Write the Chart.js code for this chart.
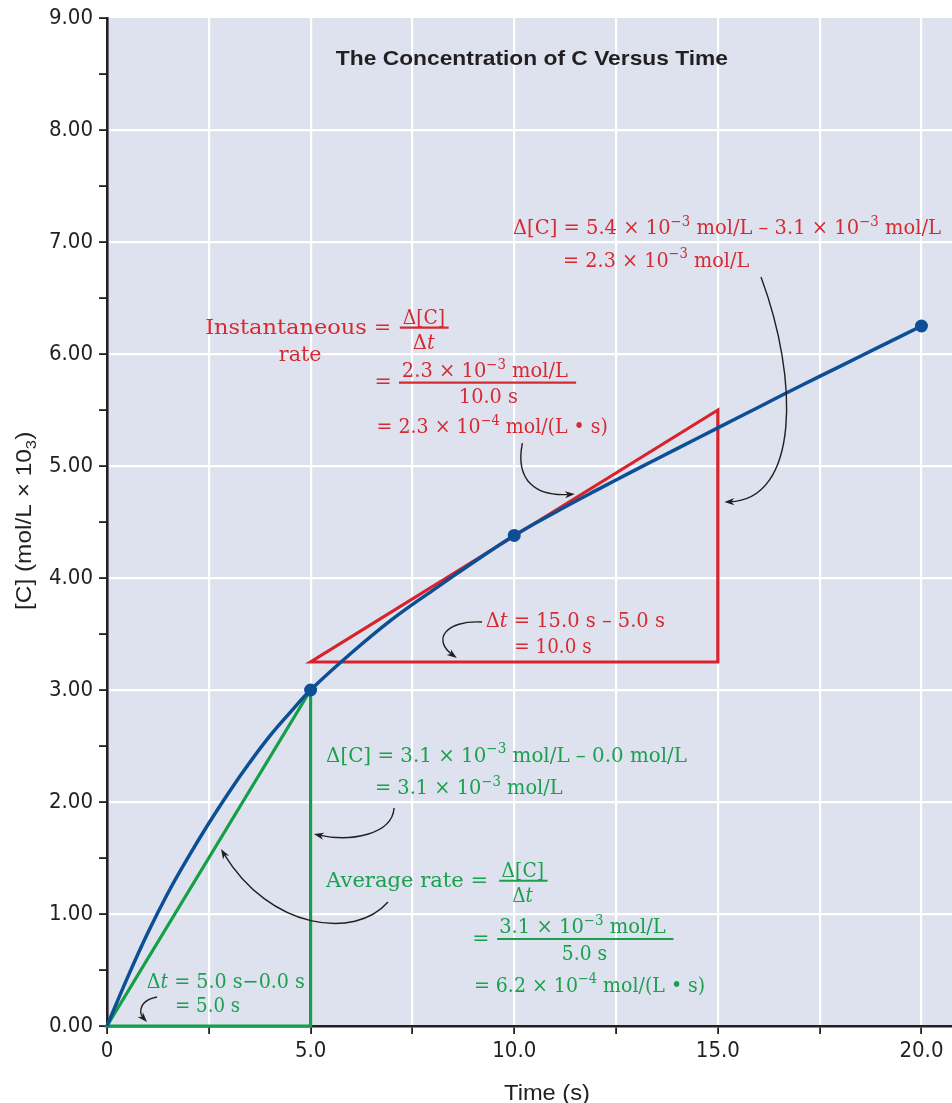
<!DOCTYPE html>
<html><head><meta charset="utf-8">
<script src="https://cdn.jsdelivr.net/npm/chart.js@4.4.1/dist/chart.umd.min.js"></script>
<style>html,body{margin:0;padding:0;background:#fff;overflow:hidden}#wrap{width:952px;height:1103px}</style>
</head><body><div id="wrap"><canvas id="c" width="952" height="1103"></canvas></div>
<script>
// ---------- data ----------
const timeValues = [0,0.5,1,1.5,2,2.5,3,3.5,4,4.5,5,6,7,8,9,10,11,12,13,14,15,16,17,18,19,20];
const concValues = [0,0.43,0.83,1.19,1.51,1.81,2.09,2.35,2.59,2.80,3.00,3.33,3.63,3.89,4.14,4.38,4.585,4.78,4.97,5.155,5.34,5.525,5.71,5.89,6.07,6.25];
const markerTimes = [5,10,20];
const markerConc = [3.00,4.38,6.25];
const avgTriTime = [5,0,5,5];
const avgTriConc = [0,0,3.0,0];
const instTriTime = [15,5,15,15];
const instTriConc = [3.25,3.25,5.5,3.25];
const xTickValues = [0,2.5,5,7.5,10,12.5,15,17.5,20];
const xTickLabels = ['0','','5.0','','10.0','','15.0','','20.0'];
const yTickValues = [0,0.5,1,1.5,2,2.5,3,3.5,4,4.5,5,5.5,6,6.5,7,7.5,8,8.5,9];
const yTickLabels = ['0.00','','1.00','','2.00','','3.00','','4.00','','5.00','','6.00','','7.00','','8.00','','9.00'];
const chartTitle = 'The Concentration of C Versus Time';
const xTitle = 'Time (s)';
const yTitle = '[C] (mol/L × 10_{3})';

// ---------- annotation texts (positions in data units) ----------
const noteLines = [
  {c:'r', x1:9.97, x2:20.48, y:7.069, s:'Δ[C] = 5.4 × 10^{−3} mol/L – 3.1 × 10^{−3} mol/L'},
  {c:'r', x1:11.20, x2:15.77, y:6.779, s:'= 2.3 × 10^{−3} mol/L'},
  {c:'r', x1:2.41, x2:6.38, y:6.176, s:'Instantaneous'},
  {c:'r', x1:6.58, x2:6.95, y:6.176, s:'='},
  {c:'r', x1:7.26, x2:8.30, y:6.265, s:'Δ[C]'},
  {c:'r', x1:7.51, x2:8.05, y:6.042, s:'Δ*t*'},
  {c:'r', x1:4.22, x2:5.27, y:5.938, s:'rate'},
  {c:'r', x1:6.61, x2:6.95, y:5.700, s:'='},
  {c:'r', x1:7.24, x2:11.32, y:5.792, s:'2.3 × 10^{−3} mol/L'},
  {c:'r', x1:8.64, x2:10.09, y:5.565, s:'10.0 s'},
  {c:'r', x1:6.62, x2:12.30, y:5.292, s:'= 2.3 × 10^{−4} mol/(L • s)'},
  {c:'r', x1:9.30, x2:13.70, y:3.565, s:'Δ*t* = 15.0 s – 5.0 s'},
  {c:'r', x1:10.00, x2:11.90, y:3.333, s:'= 10.0 s'},
  {c:'g', x1:5.38, x2:14.24, y:2.360, s:'Δ[C] = 3.1 × 10^{−3} mol/L – 0.0 mol/L'},
  {c:'g', x1:6.58, x2:11.19, y:2.071, s:'= 3.1 × 10^{−3} mol/L'},
  {c:'g', x1:5.38, x2:9.36, y:1.244, s:'Average rate ='},
  {c:'g', x1:9.69, x2:10.73, y:1.333, s:'Δ[C]'},
  {c:'g', x1:9.95, x2:10.46, y:1.110, s:'Δ*t*'},
  {c:'g', x1:9.04, x2:9.32, y:0.723, s:'='},
  {c:'g', x1:9.63, x2:13.72, y:0.828, s:'3.1 × 10^{−3} mol/L'},
  {c:'g', x1:11.17, x2:12.28, y:0.589, s:'5.0 s'},
  {c:'g', x1:9.01, x2:14.69, y:0.306, s:'= 6.2 × 10^{−4} mol/(L • s)'},
  {c:'g', x1:0.975, x2:4.86, y:0.337, s:'Δ*t* = 5.0 s−0.0 s'},
  {c:'g', x1:1.67, x2:3.27, y:0.128, s:'= 5.0 s'}
];
const fractionBars = [
  {c:'r', x1:7.19, x2:8.39, y:6.235},
  {c:'r', x1:7.17, x2:11.52, y:5.744},
  {c:'g', x1:9.63, x2:10.82, y:1.297},
  {c:'g', x1:9.58, x2:13.91, y:0.777}
];
// cubic bezier pointer arrows: [x0,y0, c1x,c1y, c2x,c2y, x1,y1] in data units
const pointerArrows = [
  [10.20,5.205, 10.02,4.875, 10.51,4.723, 11.49,4.75],
  [16.06,6.688, 17.00,5.768, 17.00,4.696, 15.16,4.679],
  [9.21,3.607, 8.30,3.625, 7.98,3.446, 8.59,3.286],
  [7.05,1.946, 7.00,1.705, 5.97,1.643, 5.08,1.714],
  [6.90,1.107, 6.09,0.768, 4.00,0.857, 2.80,1.580],
  [1.228,0.259, 0.810,0.232, 0.761,0.125, 0.982,0.036]
];

// ---------- styles ----------
const PLOT_BG = '#dee2ee';
const INK = '#231f20';
const BLUE = '#0c4f95';
const RED_LINE = '#d7232c';
const GREEN_LINE = '#14a049';
const TXT = {r:'#d62a33', g:'#1aa04e'};
const SERIF = '"DejaVu Serif","Liberation Serif",serif';
const SANS = '"Liberation Sans",Arial,sans-serif';
const NARROW = '"Liberation Sans Narrow","DejaVu Sans Condensed","Liberation Sans",sans-serif';

function parseRich(s){
  const out=[]; const re=/\^\{([^}]*)\}|_\{([^}]*)\}|\*([^*]+)\*/g; let last=0,m;
  while((m=re.exec(s))){
    if(m.index>last) out.push({t:s.slice(last,m.index),k:'n'});
    if(m[1]!==undefined) out.push({t:m[1],k:'sup'});
    else if(m[2]!==undefined) out.push({t:m[2],k:'sub'});
    else out.push({t:m[3],k:'it'});
    last=re.lastIndex;
  }
  if(last<s.length) out.push({t:s.slice(last),k:'n'});
  return out;
}
function partFont(p, st){
  if(p.k==='sup'||p.k==='sub') return `${st.weight||'normal'} ${st.small}px ${st.fam}`;
  if(p.k==='it') return `italic ${st.weight||'normal'} ${st.size}px ${st.fam}`;
  return `${st.weight||'normal'} ${st.size}px ${st.fam}`;
}
function richWidth(ctx, parts, st){
  let w=0; for(const p of parts){ ctx.font=partFont(p,st); w+=ctx.measureText(p.t).width; } return w;
}
function drawRich(ctx, s, x, y, st, targetW, rot, sy){
  const parts=parseRich(s);
  const nat=richWidth(ctx,parts,st);
  let sx = targetW ? targetW/nat : 1;
  if(s.length<=1){ x += (targetW-nat)/2; sx=1; }
  sx=Math.max(0.82,Math.min(1.18,sx));
  ctx.save();
  ctx.translate(x,y);
  if(rot) ctx.rotate(rot);
  ctx.scale(sx,sy||1);
  ctx.textBaseline='alphabetic'; ctx.textAlign='left';
  let cx=0;
  for(const p of parts){
    ctx.font=partFont(p,st);
    let dy=0; if(p.k==='sup') dy=-st.rise; if(p.k==='sub') dy=st.drop;
    ctx.fillText(p.t,cx,dy);
    cx+=ctx.measureText(p.t).width;
  }
  ctx.restore();
}

const notesPlugin = {
  id:'notes',
  beforeDraw(chart){
    const {ctx, chartArea:a}=chart;
    ctx.save(); ctx.fillStyle=PLOT_BG; ctx.fillRect(a.left,a.top,a.right-a.left,a.bottom-a.top); ctx.restore();
  },
  afterDraw(chart){
    const ctx=chart.ctx, xs=chart.scales.x, ys=chart.scales.y;
    const X=v=>xs.getPixelForValue(v), Y=v=>ys.getPixelForValue(v);
    const serif={fam:SERIF,size:20.5,small:14,rise:8.5,drop:5};
    for(const n of noteLines){
      ctx.fillStyle=TXT[n.c];
      drawRich(ctx,n.s,X(n.x1),Y(n.y),serif,X(n.x2)-X(n.x1));
    }
    ctx.save(); ctx.lineWidth=2.2; ctx.lineCap='butt';
    for(const b of fractionBars){
      ctx.strokeStyle=TXT[b.c]; ctx.beginPath(); ctx.moveTo(X(b.x1),Y(b.y)); ctx.lineTo(X(b.x2),Y(b.y)); ctx.stroke();
    }
    ctx.restore();
    // arrows
    ctx.save(); ctx.strokeStyle=INK; ctx.fillStyle=INK; ctx.lineWidth=1.4;
    for(const a of pointerArrows){
      const p=[X(a[0]),Y(a[1]),X(a[2]),Y(a[3]),X(a[4]),Y(a[5]),X(a[6]),Y(a[7])];
      const ang=Math.atan2(p[7]-p[5],p[6]-p[4]);
      ctx.beginPath(); ctx.moveTo(p[0],p[1]); ctx.bezierCurveTo(p[2],p[3],p[4],p[5],p[6]-5*Math.cos(ang),p[7]-5*Math.sin(ang)); ctx.stroke();
      ctx.save(); ctx.translate(p[6],p[7]); ctx.rotate(ang);
      ctx.beginPath(); ctx.moveTo(0,0); ctx.lineTo(-10,-3.6); ctx.lineTo(-7,0); ctx.lineTo(-10,3.6); ctx.closePath(); ctx.fill();
      ctx.restore();
    }
    ctx.restore();
    // chart title
    ctx.fillStyle=INK;
    drawRich(ctx,chartTitle,X(5.62),Y(8.58),{fam:SANS,size:21,small:14,rise:8,drop:5,weight:'bold'},X(15.25)-X(5.62));
    // axis titles
    drawRich(ctx,xTitle,X(9.75),Y(-0.661),{fam:SANS,size:22,small:15,rise:8,drop:5},X(11.86)-X(9.75));
    drawRich(ctx,yTitle,X(-1.866),Y(3.714),{fam:SANS,size:22,small:15,rise:8,drop:5},Y(3.714)-Y(5.306),-Math.PI/2);
  }
};

const pts=(xs,ys)=>xs.map((v,i)=>({x:v,y:ys[i]}));

new Chart(document.getElementById('c'),{
  type:'line',
  data:{datasets:[
    {label:'markers',type:'scatter',data:pts(markerTimes,markerConc),pointRadius:6.5,pointBackgroundColor:BLUE,pointBorderWidth:0,showLine:false,order:0,clip:false},
    {label:'[C]',data:pts(timeValues,concValues),borderColor:BLUE,borderWidth:3.5,pointRadius:0,tension:0.4,fill:false,order:1,clip:false},
    {label:'instantaneous',data:pts(instTriTime,instTriConc),borderColor:RED_LINE,borderWidth:3.2,pointRadius:0,tension:0,fill:false,borderJoinStyle:'miter',borderCapStyle:'square',order:2,clip:false},
    {label:'average',data:pts(avgTriTime,avgTriConc),borderColor:GREEN_LINE,borderWidth:3.2,pointRadius:0,tension:0,fill:false,borderJoinStyle:'miter',borderCapStyle:'square',order:3,clip:false}
  ]},
  options:{
    responsive:false, animation:false, devicePixelRatio:1,
    layout:{autoPadding:false,padding:{top:18,left:0,right:0,bottom:0}},
    plugins:{legend:{display:false},tooltip:{enabled:false},title:{display:false}},
    scales:{
      x:{type:'linear',min:0,max:20.75,
        afterBuildTicks:s=>{s.ticks=xTickValues.map(v=>({value:v}));},
        afterFit:s=>{s.height=77;s.paddingLeft=0;s.paddingRight=0;},
        ticks:{autoSkip:false,maxRotation:0,padding:4,color:INK,font:{family:NARROW,size:22},
          callback:(v)=>{const i=xTickValues.indexOf(v);return i>=0?xTickLabels[i]:'';}},
        grid:{color:c=>(c.tick&&c.tick.value>0)?'#ffffff':'rgba(0,0,0,0)',lineWidth:2.2,tickColor:INK,tickLength:8,tickWidth:1.8},
        border:{display:true,color:INK,width:2.6},
        title:{display:false}},
      y:{type:'linear',min:0,max:9,
        afterBuildTicks:s=>{s.ticks=yTickValues.map(v=>({value:v}));},
        afterFit:s=>{s.width=107;s.paddingTop=0;s.paddingBottom=0;},
        ticks:{autoSkip:false,padding:6,color:INK,font:{family:NARROW,size:22},
          callback:(v)=>{const i=yTickValues.indexOf(v);return i>=0?yTickLabels[i]:'';}},
        grid:{color:c=>(c.tick&&Number.isInteger(c.tick.value)&&c.tick.value>0&&c.tick.value<9)?'#ffffff':'rgba(0,0,0,0)',lineWidth:2.2,tickColor:INK,tickLength:8,tickWidth:1.8},
        border:{display:true,color:INK,width:2.6},
        title:{display:false}}
    }
  },
  plugins:[notesPlugin]
});
</script></body></html>
